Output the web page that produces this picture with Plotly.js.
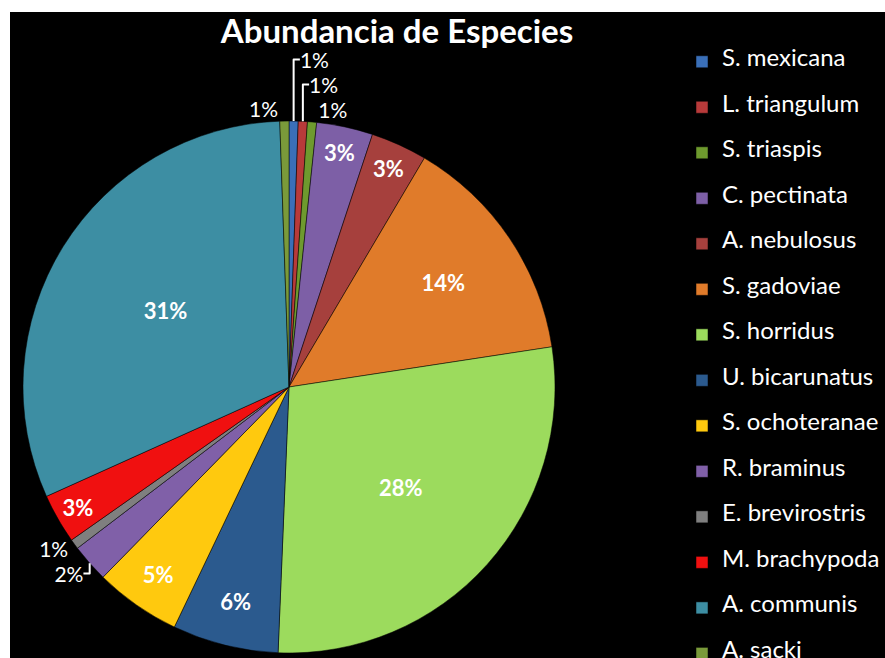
<!DOCTYPE html>
<html>
<head>
    <meta charset="utf-8">
    <title>Abundancia de Especies</title>
    <script src="https://cdn.plot.ly/plotly-3.0.1.min.js"></script>
    <style>
        body { margin: 0; background: #ffffff; overflow: hidden; }
        /* el gráfico original queda cortado por abajo (A. sacki), así que el lienzo sigue más allá de la ventana */
        #chart { position: absolute; left: 10px; top: 12px; width: 875px; height: 700px; }
    </style>
</head>
<body>
    <div id="chart"></div>
    <script>
        // especies en el orden del gráfico (empieza a las 12 en punto, sentido horario)
        const species = [
            "S. mexicana", "L. triangulum", "S. triaspis", "C. pectinata",
            "A. nebulosus", "S. gadoviae", "S. horridus", "U. bicarunatus",
            "S. ochoteranae", "R. braminus", "E. brevirostris", "M. brachypoda",
            "A. communis", "A. sacki"
        ];
        // porcentaje aproximado
        const abundance = [0.55, 0.55, 0.55, 3.4, 3.4, 14.0, 27.9, 6.4, 5.2, 2.3, 0.6, 3.0, 31.0, 0.55];
        const colors = [
            "#3a6fb8", "#b83a3a", "#6e9a2e", "#7d5fa6", "#a6403d", "#e07b2a", "#9cdb5d",
            "#2b5a8e", "#ffc90e", "#8060a8", "#7f7f7f", "#f01010", "#3d8ea3", "#7a9a3a"
        ];
        const outsideLabels = ["S. mexicana", "L. triangulum", "S. triaspis", "R. braminus", "E. brevirostris", "A. sacki"];

        const H = 700;

        const trace = {
            type: "pie",
            // líneas vacías arriba y abajo para separar la leyenda como en el original
            labels: species.map(s => "&nbsp;<br><span style='font-size:24px'>" + s + "</span><br>&nbsp;"),
            values: abundance,
            sort: false,
            direction: "clockwise",
            rotation: 0,
            marker: { colors: colors, line: { color: "#000000", width: 0.5 } },
            texttemplate: "%{percent:.0%}",
            textposition: species.map(s => outsideLabels.includes(s) ? "outside" : "inside"),
            insidetextorientation: "horizontal",
            insidetextfont: { family: "Lato, sans-serif", size: 22, color: "#ffffff", weight: "bold" },
            outsidetextfont: { family: "Lato, sans-serif", size: 21, color: "#ffffff" },
            hoverinfo: "label+percent",
            domain: { x: [13 / 875, 545 / 875], y: [1 - 641 / H, 1 - 109 / H] }
        };

        const layout = {
            width: 875,
            height: H,
            paper_bgcolor: "#000000",
            plot_bgcolor: "#000000",
            margin: { l: 0, r: 0, t: 0, b: 0 },
            title: {
                text: "<b>Abundancia de Especies</b>",
                font: { family: "Lato, sans-serif", size: 33, color: "#ffffff" },
                x: 387 / 875, xanchor: "center",
                y: 1 - 19 / H, yanchor: "middle"
            },
            showlegend: true,
            legend: {
                x: 0.768, xanchor: "left",
                y: 1 - 22 / H, yanchor: "top",
                font: { family: "Lato, sans-serif", size: 10.9, color: "#ffffff" },
                bgcolor: "rgba(0,0,0,0)"
            }
        };

        Plotly.newPlot("chart", [trace], layout, { displayModeBar: false, staticPlot: true });
    </script>
</body>
</html>
